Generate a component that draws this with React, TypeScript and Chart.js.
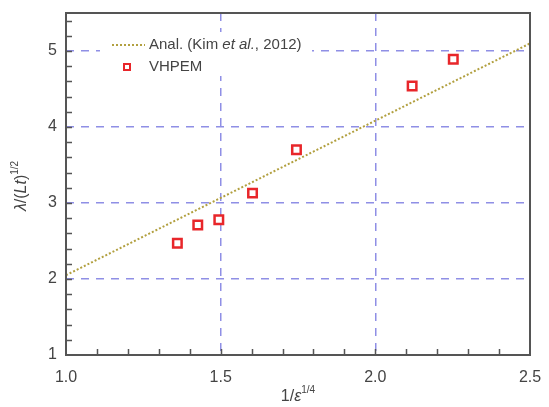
import React, { useEffect, useRef } from "react";
import { Chart, registerables } from "chart.js";

Chart.register(...registerables);

// Measured points (VHPEM)
const vhpemX = [1.36, 1.426, 1.494, 1.603, 1.745, 2.119, 2.252];
const vhpemY = [2.47, 2.71, 2.78, 3.13, 3.7, 4.54, 4.89];

// Analytical relation (Kim et al., 2012)
const analX = [1.0, 2.5];
const analY = [2.05, 5.1];

// Axis ranges and tick values
const xRange = [1.0, 2.5];
const yRange = [1, 5.5];
const xGridValues = [1.5, 2.0];
const yGridValues = [2, 3, 4, 5];
const xMinorStep = 0.1;
const yMinorStep = 0.2;

// Legend entries
const legendAnal = ["Anal. (Kim ", "et al.", ", 2012)"];
const legendVhpem = "VHPEM";

const FONT = "'Liberation Sans', Arial, sans-serif";
const TEXT = "#444";
const FRAME = "#555";
const RED = "#e8262a";
const OLIVE = "#b2a040";
const GRID = "rgba(105, 105, 220, 0.75)";

type Piece = { t: string; italic?: boolean; sup?: boolean };

function drawRich(ctx: CanvasRenderingContext2D, pieces: Piece[], size: number, cx: number, cy: number) {
  const fontFor = (p: Piece) =>
    `${p.italic ? "italic " : ""}${p.sup ? Math.round(size * 0.62) : size}px ${FONT}`;
  let total = 0;
  for (const p of pieces) {
    ctx.font = fontFor(p);
    total += ctx.measureText(p.t).width;
  }
  let x = cx - total / 2;
  ctx.textBaseline = "middle";
  ctx.textAlign = "left";
  for (const p of pieces) {
    ctx.font = fontFor(p);
    ctx.fillText(p.t, x, p.sup ? cy - size * 0.45 : cy);
    x += ctx.measureText(p.t).width;
  }
}

const decorations = {
  id: "decorations",
  afterDraw(chart: any) {
    const { ctx, chartArea: a, scales } = chart;
    const xs = scales.x;
    const ys = scales.y;
    ctx.save();

    // inward minor ticks
    ctx.strokeStyle = FRAME;
    ctx.lineWidth = 1.5;
    ctx.beginPath();
    for (let v = xRange[0] + xMinorStep; v < xRange[1] - 1e-6; v += xMinorStep) {
      const px = Math.round(xs.getPixelForValue(v)) + 0.5;
      ctx.moveTo(px, a.bottom);
      ctx.lineTo(px, a.bottom - 6);
    }
    for (let v = yRange[0] + yMinorStep; v < yRange[1] - 1e-6; v += yMinorStep) {
      const py = Math.round(ys.getPixelForValue(v)) + 0.5;
      ctx.moveTo(a.left, py);
      ctx.lineTo(a.left + 6, py);
    }
    ctx.stroke();

    // frame
    ctx.lineWidth = 2;
    ctx.strokeRect(a.left, a.top, a.right - a.left, a.bottom - a.top);

    // legend
    const lx = 100;
    const ly = 32;
    ctx.fillStyle = "#fff";
    ctx.fillRect(lx, ly, 212, 44);
    ctx.strokeStyle = OLIVE;
    ctx.lineWidth = 2;
    ctx.setLineDash([2, 2]);
    ctx.beginPath();
    ctx.moveTo(112, 45);
    ctx.lineTo(145, 45);
    ctx.stroke();
    ctx.setLineDash([]);
    ctx.fillStyle = TEXT;
    ctx.textBaseline = "middle";
    ctx.textAlign = "left";
    let tx = 149;
    legendAnal.forEach((s, i) => {
      ctx.font = `${i === 1 ? "italic " : ""}15px ${FONT}`;
      ctx.fillText(s, tx, 45);
      tx += ctx.measureText(s).width;
    });
    ctx.font = `15px ${FONT}`;
    ctx.fillText(legendVhpem, 149, 67);
    ctx.strokeStyle = RED;
    ctx.lineWidth = 2;
    ctx.fillStyle = "#fff";
    ctx.fillRect(124, 64, 6, 6);
    ctx.strokeRect(124, 64, 6, 6);

    // axis titles
    ctx.fillStyle = TEXT;
    drawRich(ctx, [{ t: "1/" }, { t: "ε", italic: true }, { t: "1/4", sup: true }], 16, 298, 397);
    ctx.save();
    ctx.translate(22, 186);
    ctx.rotate(-Math.PI / 2);
    drawRich(
      ctx,
      [{ t: "λ", italic: true }, { t: "/(" }, { t: "Lt", italic: true }, { t: ")" }, { t: "1/2", sup: true }],
      16,
      0,
      0
    );
    ctx.restore();
    ctx.restore();
  },
};

export default function App() {
  const ref = useRef<HTMLCanvasElement | null>(null);

  useEffect(() => {
    if (!ref.current) return;
    const chart = new Chart(ref.current, {
      type: "scatter",
      data: {
        datasets: [
          {
            label: "Anal. (Kim et al., 2012)",
            data: analX.map((x, i) => ({ x, y: analY[i] })),
            showLine: true,
            borderColor: OLIVE,
            borderWidth: 2,
            borderDash: [2, 2],
            pointRadius: 0,
            fill: false,
          },
          {
            label: legendVhpem,
            data: vhpemX.map((x, i) => ({ x, y: vhpemY[i] })),
            showLine: false,
            pointStyle: "rect",
            pointRadius: 6,
            borderColor: RED,
            backgroundColor: "#fff",
            pointBorderWidth: 2.5,
          },
        ],
      },
      options: {
        responsive: false,
        animation: false,
        layout: { padding: { top: 13, right: 19, left: 0, bottom: 0 } },
        plugins: { legend: { display: false }, tooltip: { enabled: false } },
        scales: {
          x: {
            type: "linear",
            min: xRange[0],
            max: xRange[1],
            ticks: {
              stepSize: 0.5,
              padding: 13,
              color: TEXT,
              font: { family: FONT, size: 16 },
              callback: (v: any) => Number(v).toFixed(1),
            },
            grid: {
              drawTicks: false,
              lineWidth: 1.5,
              color: (c: any) => (xGridValues.some((g) => Math.abs(g - c.tick?.value) < 1e-6) ? GRID : "transparent"),
            },
            border: { display: false, dash: [8, 7] },
            afterFit: (s: any) => {
              s.height = 52;
              s.paddingLeft = 0;
              s.paddingRight = 0;
            },
          },
          y: {
            type: "linear",
            min: yRange[0],
            max: yRange[1],
            ticks: {
              stepSize: 1,
              includeBounds: false,
              padding: 9,
              color: TEXT,
              font: { family: FONT, size: 16 },
            },
            grid: {
              drawTicks: false,
              lineWidth: 1.5,
              color: (c: any) => (yGridValues.some((g) => Math.abs(g - c.tick?.value) < 1e-6) ? GRID : "transparent"),
            },
            border: { display: false, dash: [8, 7] },
            afterFit: (s: any) => {
              s.width = 66;
              s.paddingTop = 0;
              s.paddingBottom = 0;
            },
          },
        },
      },
      plugins: [decorations],
    } as any);
    return () => chart.destroy();
  }, []);

  return (
    <div style={{ position: "fixed", left: 0, top: 0, width: 549, height: 407, background: "#fff" }}>
      <canvas ref={ref} width={549} height={407} />
    </div>
  );
}
